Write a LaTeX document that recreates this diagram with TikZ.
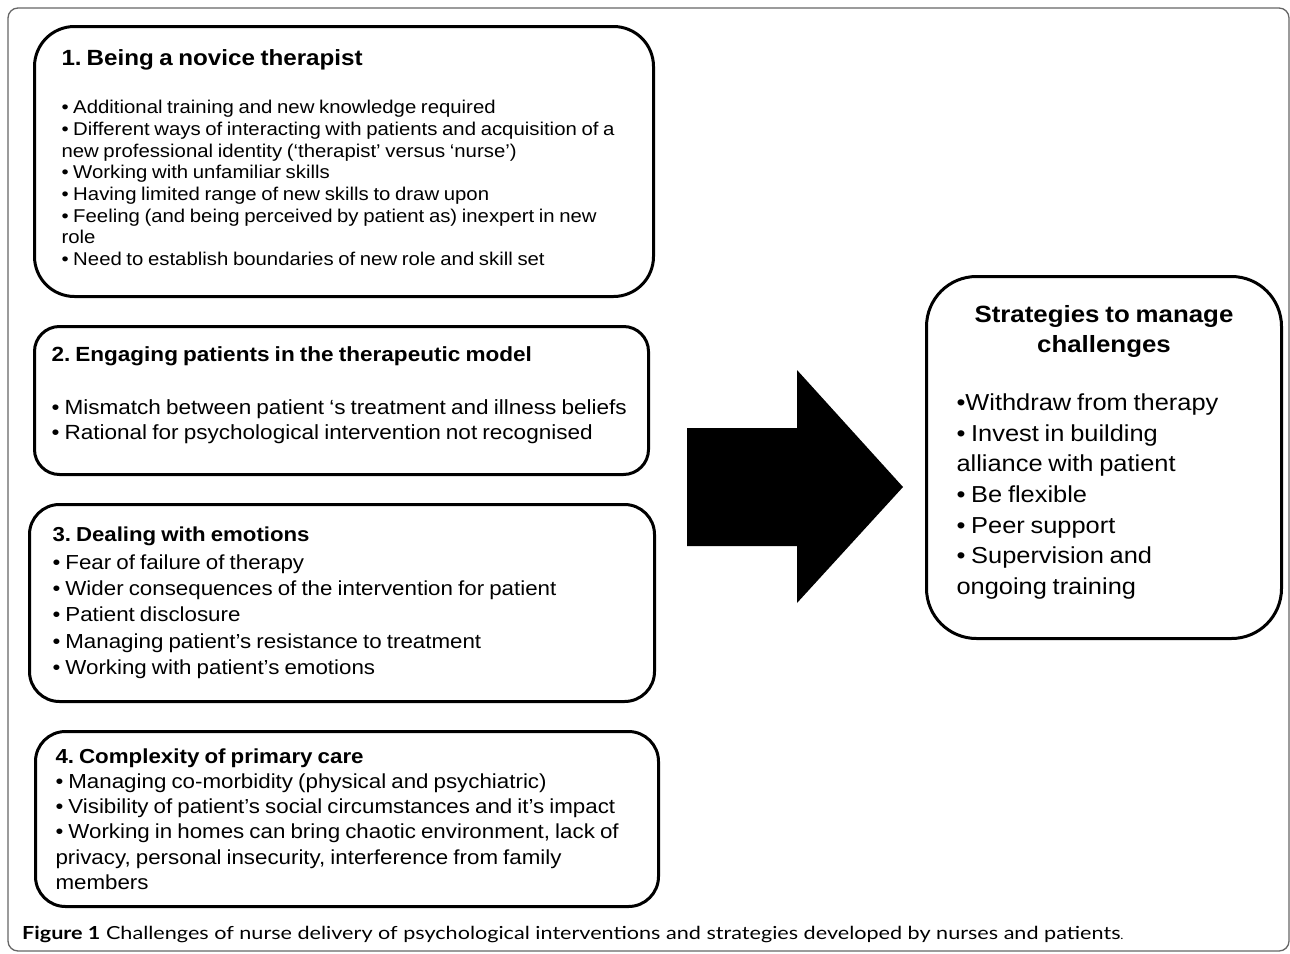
\documentclass[tikz,border=0pt]{standalone}
\usepackage{fontspec}
\setmainfont[FakeStretch=1.1]{Liberation Sans}
\newfontfamily\capfont[FakeStretch=1.2]{Lato}
\usetikzlibrary{positioning}
% size, line distance, and a slightly wider word space
\newcommand\boxfont[2]{\fontsize{#1}{#2}\selectfont\spaceskip=.25em\relax\hyphenpenalty=10000 }
% empty room below the last line
\newcommand\bottomroom[1]{\par\nointerlineskip\rule{0pt}{#1}\par}

\begin{document}
\begin{tikzpicture}[x=1pt,y=-1pt,
        challenge/.style={draw,line width=3pt,anchor=north west,align=left,inner ysep=0pt}]
        \useasboundingbox (0,0) rectangle (1290,953);
        % outer frame of the figure
        \draw[black!60,line width=1.3pt,rounded corners=10pt] (8,8) rectangle (1289,951);

        % the four challenges
        \node[challenge,rounded corners=40pt,inner xsep=27pt,text width=565pt,minimum height=270pt] (novice) at (33,25)
            {{\boxfont{22}{26}\bfseries 1. Being a novice therapist\par}\vspace{27pt}
             \boxfont{18.5}{21.7}
             {\textbullet} Additional training and new knowledge required\\
             {\textbullet} Different ways of interacting with patients and acquisition of a\\
             new professional identity (`therapist' versus `nurse')\\
             {\textbullet} Working with unfamiliar skills\\
             {\textbullet} Having limited range of new skills to draw upon\\
             {\textbullet} Feeling (and being perceived by patient as) inexpert in new\\
             role\\
             {\textbullet} Need to establish boundaries of new role and skill set\bottomroom{8pt}};
        \node[challenge,rounded corners=25pt,inner xsep=17pt,text width=580pt,minimum height=148pt] (engaging) at (33,325)
            {{\boxfont{20.5}{25}\bfseries 2. Engaging patients in the therapeutic model\par}\vspace{28pt}
             \boxfont{20.5}{25}
             {\textbullet} Mismatch between patient `s treatment and illness beliefs\\
             {\textbullet} Rational for psychological intervention not recognised\bottomroom{10pt}};
        \node[challenge,rounded corners=30pt,inner xsep=23pt,text width=579pt,minimum height=197pt] (emotions) at (28,503)
            {{\boxfont{20.2}{26}\bfseries 3. Dealing with emotions\par}\vspace{1pt}
             \boxfont{20.3}{26.3}
             {\textbullet} Fear of failure of therapy\\
             {\textbullet} Wider consequences of the intervention for patient\\
             {\textbullet} Patient disclosure\\
             {\textbullet} Managing patient's resistance to treatment\\
             {\textbullet} Working with patient's emotions\par};
        \node[challenge,rounded corners=30pt,inner xsep=20pt,text width=583pt,minimum height=175pt] (primary) at (34,730)
            {{\boxfont{20.3}{25}\bfseries 4. Complexity of primary care\par}
             \boxfont{20.3}{25.3}
             {\textbullet} Managing co-morbidity (physical and psychiatric)\\
             {\textbullet} Visibility of patient's social circumstances and it's impact\\
             {\textbullet} Working in homes can bring chaotic environment, lack of\\
             privacy, personal insecurity, interference from family\\
             members\par};

        % big arrow
        \fill (687,428) -- (797,428) -- (797,370) -- (903,487) -- (797,603) -- (797,546) -- (687,546) -- cycle;

        % strategies
        \node[challenge,rounded corners=50pt,inner xsep=30pt,text width=295pt,minimum height=362pt] (strategies) at (925,275)
            {{\centering\boxfont{23.5}{30}\bfseries Strategies to manage\\ challenges\par}\vspace{27pt}
             \boxfont{23.1}{30.7}
             {\textbullet}Withdraw from therapy\\
             {\textbullet} Invest in building\\
             alliance with patient\\
             {\textbullet} Be flexible\\
             {\textbullet} Peer support\\
             {\textbullet} Supervision and\\
             ongoing training\bottomroom{10pt}};

        \node[anchor=west,inner sep=0pt,font=\capfont\fontsize{18}{22}\selectfont] (caption) at (22,934)
            {\textbf{Figure 1} Challenges of nurse delivery of psychological interventions and strategies developed by nurses and patients{\fontsize{11}{13}\selectfont .}};
    \end{tikzpicture}
\end{document}
